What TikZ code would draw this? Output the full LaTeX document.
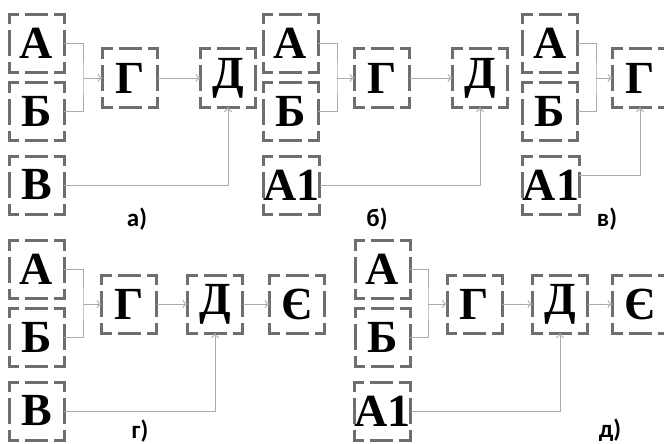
\documentclass[tikz,border=0pt]{standalone}
\usepackage{fontspec}
\setmainfont{Liberation Serif}
\newfontfamily\lblfont{Carlito}
\usetikzlibrary{arrows.meta}
\definecolor{boxgray}{HTML}{6E6E6E}
\definecolor{linegray}{HTML}{ABABAB}
\tikzset{
  blk/.style={minimum width=55pt, minimum height=58pt, inner sep=0pt, outer sep=0pt,
    font=\fontsize{46}{46}\selectfont\bfseries, text=black},
  hside/.style={draw=boxgray, line width=3pt, line cap=rect, dash pattern=on 8.5pt off 9pt on 20pt off 9pt on 20pt},
  vside/.style={draw=boxgray, line width=3pt, line cap=rect, dash pattern=on 8.5pt off 9pt on 23pt off 9pt on 20pt},
  conn/.style={draw=linegray, line width=0.9pt},
  arr/.style={conn, -{To[length=5pt,width=8pt]}},
  lbl/.style={font=\lblfont\fontsize{25}{25}\selectfont\bfseries, inner sep=0pt}
}
\newcommand\mydashframe[1]{%
  \draw[hside] (#1.north west) -- (#1.north east);
  \draw[hside] (#1.south west) -- (#1.south east);
  \draw[vside] (#1.north west) -- (#1.south west);
  \draw[vside] (#1.north east) -- (#1.south east);}
\begin{document}
\begin{tikzpicture}[x=1pt,y=-1pt]
\useasboundingbox (0,0) rectangle (664,444);
\clip (0,0) rectangle (664,444);
% panel a
\node[blk] (Aa) at (36.5,43.5) {А};
\node[blk] (Ba) at (36.5,111.5) {Б};
\node[blk] (Va) at (36.5,185) {В};
\node[blk] (Ga) at (130,78) {Г};
\node[blk] (Da) at (228,78) {Д};
\foreach \n in {Aa,Ba,Va,Ga,Da} {\mydashframe{\n}}
\coordinate (ja) at (83,78);
\draw[conn] (Aa.east) -| (ja) |- (Ba.east);
\draw[arr] (ja) -- (Ga.west);
\draw[arr] (Ga.east) -- (Da.west);
\draw[arr] (Va.east) -| (Da.south);
\node[lbl] (la) at (137,219) {а)};
% panel b
\node[blk] (Ab) at (290.5,43.5) {А};
\node[blk] (Bb) at (290.5,111.5) {Б};
\node[blk] (A1b) at (291.5,185) {А1};
\node[blk] (Gb) at (382,78) {Г};
\node[blk] (Db) at (480,78) {Д};
\foreach \n in {Ab,Bb,A1b,Gb,Db} {\mydashframe{\n}}
\coordinate (jb) at (337,78);
\draw[conn] (Ab.east) -| (jb) |- (Bb.east);
\draw[arr] (jb) -- (Gb.west);
\draw[arr] (Gb.east) -- (Db.west);
\draw[arr] (A1b.east) -| (Db.south);
\node[lbl] (lb) at (377,219) {б)};
% panel c
\node[blk] (Ac) at (550,43.5) {А};
\node[blk] (Bc) at (550,111.5) {Б};
\node[blk] (A1c) at (551,185) {А1};
\node[blk] (Gc) at (640,78) {Г};
\foreach \n in {Ac,Bc,A1c,Gc} {\mydashframe{\n}}
\coordinate (jc) at (596,78);
\draw[conn] (Ac.east) -| (jc) |- (Bc.east);
\draw[arr] (jc) -- (Gc.west);
\draw[arr] ([yshift=10pt]A1c.east) -| (Gc.south);
\node[lbl] (lc) at (607,219) {в)};
% panel d
\node[blk] (Ad) at (36.5,269.5) {А};
\node[blk] (Bd) at (36.5,337) {Б};
\node[blk] (Vd) at (36.5,411) {В};
\node[blk] (Gd) at (129,304) {Г};
\node[blk] (Dd) at (215,304) {Д};
\node[blk] (Ed) at (297,304) {Є};
\foreach \n in {Ad,Bd,Vd,Gd,Dd,Ed} {\mydashframe{\n}}
\coordinate (jd) at (83,304);
\draw[conn] (Ad.east) -| (jd) |- (Bd.east);
\draw[arr] (jd) -- (Gd.west);
\draw[arr] (Gd.east) -- (Dd.west);
\draw[arr] (Dd.east) -- (Ed.west);
\draw[arr] (Vd.east) -| (Dd.south);
\node[lbl] (ld) at (140,431) {г)};
% panel e
\node[blk] (Ae) at (382.5,269.5) {А};
\node[blk] (Be) at (382.5,337) {Б};
\node[blk] (A1e) at (382.5,411) {А1};
\node[blk] (Ge) at (474.5,304) {Г};
\node[blk] (De) at (560,304) {Д};
\node[blk] (Ee) at (640,304) {Є};
\foreach \n in {Ae,Be,A1e,Ge,De,Ee} {\mydashframe{\n}}
\coordinate (je) at (428,304);
\draw[conn] (Ae.east) -| (je) |- (Be.east);
\draw[arr] (je) -- (Ge.west);
\draw[arr] (Ge.east) -- (De.west);
\draw[arr] (De.east) -- (Ee.west);
\draw[arr] (A1e.east) -| (De.south);
\node[lbl] (le) at (610,430) {д)};
\end{tikzpicture}
\end{document}
